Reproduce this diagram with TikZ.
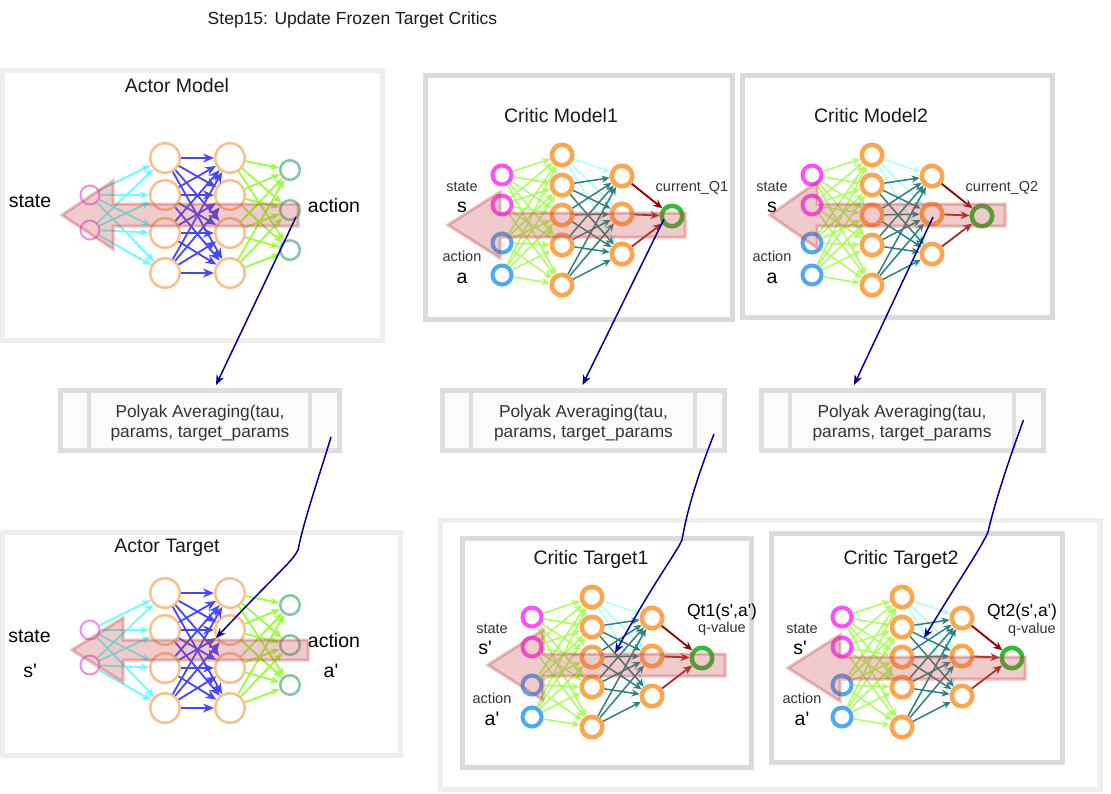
\documentclass[tikz,border=0pt]{standalone}
\usepackage{fontspec}
\setmainfont{Liberation Sans}
\usetikzlibrary{arrows.meta,calc}

\definecolor{framelight}{HTML}{EEEEEE}
\definecolor{framegray}{HTML}{DADADA}
\definecolor{polyfill}{HTML}{FBFBFB}
\definecolor{polyline}{HTML}{DEDEDE}
\definecolor{navy}{HTML}{000099}
\definecolor{txt}{HTML}{1A1A1A}
\definecolor{txtgray}{HTML}{333333}
\definecolor{apink}{HTML}{F28CF2}
\definecolor{aorange}{HTML}{FBBF8C}
\definecolor{agreenout}{HTML}{80C8A0}
\definecolor{acyan}{HTML}{66FFFF}
\definecolor{ablue}{HTML}{4646FF}
\definecolor{agreen}{HTML}{99FF3C}
\definecolor{cmag}{HTML}{FF4DFF}
\definecolor{cblue}{HTML}{4DA6FF}
\definecolor{corange}{HTML}{FFA64D}
\definecolor{cgreen}{HTML}{33BB33}
\definecolor{clgreen}{HTML}{AAFF5A}
\definecolor{cteal}{HTML}{2D8080}
\definecolor{ccyan}{HTML}{AAFFFF}
\definecolor{cred}{HTML}{AA2828}
\definecolor{cdred}{HTML}{990000}
\definecolor{pinkar}{HTML}{C84646}

\newcommand\ap{\textquotesingle}

\tikzset{
  frameL/.style={draw=framelight, line width=5pt},
  frameG/.style={draw=framegray, line width=5pt},
  polybox/.style={rectangle, draw=polyline, fill=polyfill, line width=5pt, minimum height=60pt, inner sep=0pt},
  polyinner/.style={draw=polyline, line width=4pt},
  ptext/.style={font=\fontsize{17.3}{20}\selectfont, text=txtgray, align=center, inner sep=0pt},
  mainttl/.style={font=\fontsize{17.5}{21}\selectfont, text=txt, inner sep=0pt, anchor=base},
  ttlF/.style={font=\fontsize{19.5}{23}\selectfont, text=txt, inner sep=0pt, anchor=base},
  biglab/.style={font=\fontsize{19.5}{23}\selectfont, text=black, inner sep=0pt, anchor=base},
  smlab/.style={font=\fontsize{14.5}{17}\selectfont, text=txtgray, inner sep=0pt, anchor=base},
  qlab/.style={font=\fontsize{17.5}{21}\selectfont, text=black, inner sep=0pt, anchor=base},
  ain/.style={circle, draw=apink, line width=2pt, minimum size=19pt, inner sep=0pt},
  ahid/.style={circle, draw=aorange, line width=2.5pt, minimum size=29.5pt, inner sep=0pt},
  aout/.style={circle, draw=agreenout, line width=2.5pt, minimum size=19.5pt, inner sep=0pt},
  acyanE/.style={draw=acyan, line width=1.8pt, -{Stealth[length=9pt,width=7pt]}},
  ablueE/.style={draw=ablue, line width=1.8pt, -{Stealth[length=11pt,width=9pt]}},
  agreenE/.style={draw=agreen, line width=1.8pt, -{Stealth[length=9pt,width=7pt]}},
  cinM/.style={circle, draw=cmag, line width=4pt, minimum size=19pt, inner sep=0pt},
  cinB/.style={circle, draw=cblue, line width=4pt, minimum size=19pt, inner sep=0pt},
  chid/.style={circle, draw=corange, line width=4.5pt, minimum size=20.5pt, inner sep=0pt},
  cout/.style={circle, draw=cgreen, line width=4.5pt, minimum size=20.5pt, inner sep=0pt},
  cgE/.style={draw=clgreen, line width=1.5pt, -{Stealth[length=8pt,width=7pt]}},
  ccE/.style={draw=ccyan, line width=1.5pt, -{Stealth[length=8pt,width=7pt]}},
  ctE/.style={draw=cteal, line width=1.5pt, -{Stealth[length=8pt,width=7pt]}},
  crE/.style={draw=cred, line width=1.8pt, -{Stealth[length=9pt,width=8pt]}},
  cdrE/.style={draw=cdred, line width=1.8pt, -{Stealth[length=9pt,width=8pt]}},
  pinkarr/.style={fill=pinkar, fill opacity=0.28, draw=pinkar, draw opacity=0.35, line width=3pt},
  navyE/.style={draw=navy, line width=1.5pt, -{Stealth[length=10pt,width=8pt]}},
}

% tipx, cy, basex, endx, headhalf, shafthalf
\newcommand\pinkarrow[6]{%
  \path[pinkarr] (#1,#2) -- (#3,#2-#5) -- (#3,#2-#6) -- (#4,#2-#6) -- (#4,#2+#6) -- (#3,#2+#6) -- (#3,#2+#5) -- cycle;}

% prefix, y shift
\newcommand\actornet[2]{%
\begin{scope}[shift={(0,#2)}]
  \node[ain] (#1i1) at (90,195) {};
  \node[ain] (#1i2) at (90,230) {};
  \foreach \yy [count=\k] in {158,195,233,273}{
    \node[ahid] (#1h\k) at (165,\yy) {};
    \node[ahid] (#1g\k) at (230,\yy) {};}
  \foreach \yy [count=\k] in {170,210,250}{\node[aout] (#1o\k) at (290,\yy) {};}
  \foreach \p in {1,2}{\foreach \q in {1,...,4}{\draw[acyanE] (#1i\p) -- (#1h\q);}}
  \foreach \p in {1,...,4}{\foreach \q in {1,...,4}{\draw[ablueE] (#1h\p) -- (#1g\q);}}
  \foreach \p in {1,...,4}{\foreach \q in {1,2,3}{\draw[agreenE] (#1g\p) -- (#1o\q);}}
\end{scope}}

% prefix, dx, dy, title, s text, a text, s x
\newcommand\criticnet[7]{%
\begin{scope}[shift={(#2,#3)}]
  \node[ttlF] (#1t) at (561,122) {#4};
  \node[cinM] (#1i1) at (502,175) {};
  \node[cinM] (#1i2) at (502,205) {};
  \node[cinB] (#1i3) at (502,243) {};
  \node[cinB] (#1i4) at (502,275) {};
  \foreach \yy [count=\k] in {155,185,215,245,285}{\node[chid] (#1h\k) at (562,\yy) {};}
  \foreach \yy [count=\k] in {176,214,254}{\node[chid] (#1g\k) at (622,\yy) {};}
  \node[cout] (#1o) at (672,216) {};
  \foreach \p in {1,...,4}{\foreach \q in {1,...,5}{\draw[cgE] (#1i\p) -- (#1h\q);}}
  \foreach \q in {1,2,3}{\draw[ccE] (#1h1) -- (#1g\q);}
  \foreach \p in {2,...,5}{\foreach \q in {1,2,3}{\draw[ctE] (#1h\p) -- (#1g\q);}}
  \draw[cdrE] (#1g1) -- (#1o);
  \draw[crE] (#1g2) -- (#1o);
  \draw[crE] (#1g3) -- (#1o);
  \node[smlab] (#1ls) at (462,191) {state};
  \node[biglab] (#1lsv) at (#7,212) {#5};
  \node[smlab] (#1la) at (462,261) {action};
  \node[biglab] (#1lav) at (462,283) {#6};
\end{scope}}

\begin{document}
\begin{tikzpicture}[x=1pt,y=-1pt]
\useasboundingbox (0,0) rectangle (1111,793);
\fill[white] (0,0) rectangle (1111,793);

% title
\node[mainttl] (title) at (352.5,24) {Step15: Update Frozen Target Critics};

% frames
\draw[frameL] (2.5,70.5) rectangle (382.5,340);
\draw[frameL] (2.5,532.5) rectangle (400,755.5);
\draw[frameG] (425.5,75.5) rectangle (732.5,319.5);
\draw[frameG] (742.5,75.5) rectangle (1052.5,317.5);
\draw[frameL] (440,520.5) rectangle (1100.5,789.5);
\draw[frameG] (462.5,538.5) rectangle (751.5,767.5);
\draw[frameG] (771.5,533) rectangle (1062.5,762.5);

% actor model
\node[ttlF] (amt) at (177,92) {Actor Model};
\actornet{am}{0}
\node[biglab] (amls) at (30,207) {state};
\node[biglab] (amla) at (334,212) {action};
\pinkarrow{62}{215}{113}{298}{34}{11}

% actor target
\node[ttlF] (att) at (167,552) {Actor Target};
\actornet{at}{435}
\node[biglab] (atls) at (29.5,642) {state};
\node[biglab] (atlsv) at (30,677) {s\ap};
\node[biglab] (atla) at (334,647) {action};
\node[biglab] (atlav) at (331,677) {a\ap};
\pinkarrow{72}{650}{123}{308}{32}{10}

% critics
\criticnet{cma}{0}{0}{Critic Model1}{s}{a}{462}
\node[smlab] (cmaq) at (692,191) {current\_Q1};
\pinkarrow{448}{225}{500}{685}{33}{12}

\criticnet{cmb}{310}{0}{Critic Model2}{s}{a}{462}
\node[smlab] (cmbq) at (1002,191) {current\_Q2};
\pinkarrow{770}{215}{817}{1005}{33}{11}

\criticnet{cta}{30}{442}{Critic Target1}{s\ap}{a\ap}{455}
\node[qlab] (ctaq) at (722,616) {Qt1(s\ap,a\ap)};
\node[smlab] (ctav) at (722,632) {q-value};
\pinkarrow{488}{665}{543}{725}{35}{11}

\criticnet{ctb}{340}{442}{Critic Target2}{s\ap}{a\ap}{460}
\node[qlab] (ctbq) at (1022,616) {Qt2(s\ap,a\ap)};
\node[smlab] (ctbv) at (1032,633) {q-value};
\pinkarrow{788}{668}{840}{1025}{33}{11}

% polyak boxes
\node[polybox, minimum width=279pt] (pa1) at (200,420.5) {};
\node[polybox, minimum width=282pt] (pa2) at (583.5,420.5) {};
\node[polybox, minimum width=282pt] (pa3) at (902,420.5) {};
\foreach \b/\l/\r in {pa1/60.5/339.5, pa2/442.5/724.5, pa3/761/1043}{
  \draw[polyinner] (\l+28.5,390.5) -- (\l+28.5,450.5);
  \draw[polyinner] (\r-29.5,390.5) -- (\r-29.5,450.5);
}
\node[ptext] (pa1t) at (200,423.5) {Polyak Averaging(tau,\\params, target\_params};
\node[ptext] (pa2t) at (583.5,423.5) {Polyak Averaging(tau,\\params, target\_params};
\node[ptext] (pa3t) at (902,423.5) {Polyak Averaging(tau,\\params, target\_params};

% navy connectors
\coordinate (c1s) at ($(amo2.center)+(6,7)$);
\coordinate (c1e) at ($(pa1.north)+(16,-3)$);
\draw[navyE] (c1s) -- (c1e);

\coordinate (c2s) at ($(pa1.south east)+(-11,-16)$);
\coordinate (c2e) at ($(atg2.center)+(-14,8)$);
\draw[navyE] (c2s) .. controls (318,480) and (304,520) .. (298,550) .. controls (292,562) and (280,570) .. (c2e);

\coordinate (c3s) at ($(cmao.center)+(-8,3)$);
\coordinate (c3e) at ($(pa2.north)+(-1,-3)$);
\draw[navyE] (c3s) -- (c3e);

\coordinate (c4s) at ($(pa2.south east)+(-13,-19)$);
\coordinate (c4e) at ($(ctah3.center)+(23,-4)$);
\draw[navyE] (c4s) .. controls (700,470) and (688,505) .. (682,540) .. controls (675,555) and (655,580) .. (c4e);

\coordinate (c5s) at ($(cmbg2.center)+(1,3)$);
\coordinate (c5e) at ($(pa3.north)+(-48,-3)$);
\draw[navyE] (c5s) -- (c5e);

\coordinate (c6s) at ($(pa3.north east)+(-22,32)$);
\coordinate (c6e) at ($(ctbh3.center)+(22,-19)$);
\draw[navyE] (c6s) .. controls (1005,470) and (993,510) .. (988,532) .. controls (980,550) and (960,578) .. (c6e);

\end{tikzpicture}
\end{document}
